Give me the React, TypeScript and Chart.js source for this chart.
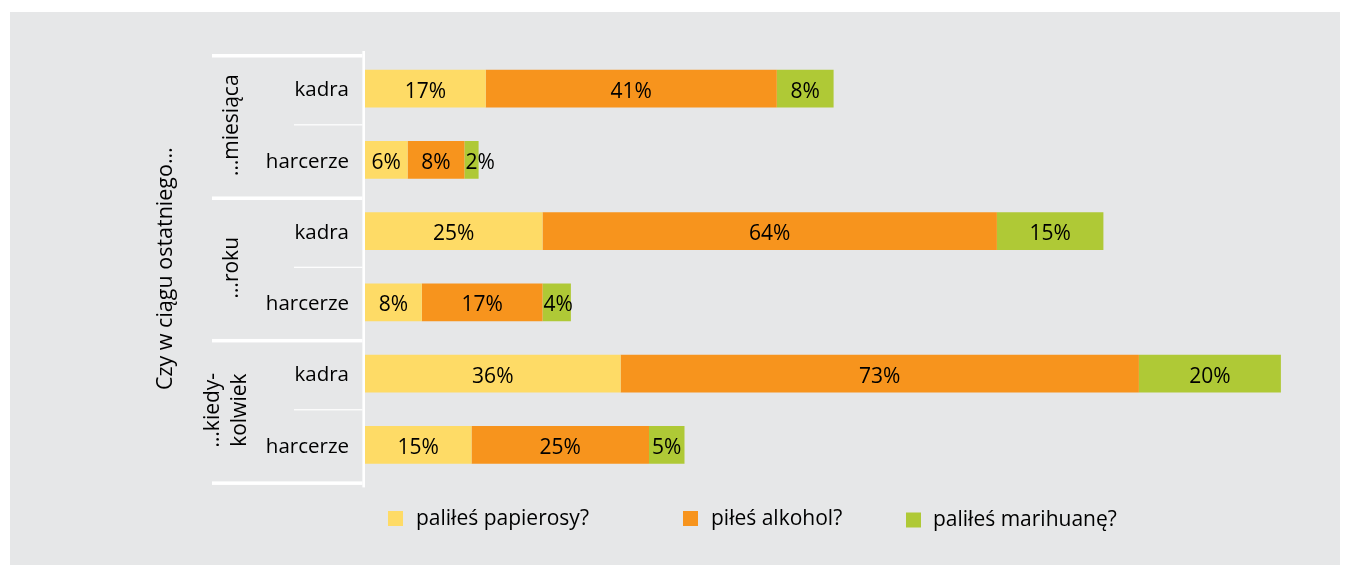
import { useEffect, useRef } from "react";
import { Chart, registerables } from "chart.js";

Chart.register(...registerables);

const rowLabels = ["kadra", "harcerze", "kadra", "harcerze", "kadra", "harcerze"];
const groupLabels: string[][] = [["…miesiąca"], ["…roku"], ["…kiedy-", "kolwiek"]];
const axisTitle = "Czy w ciągu ostatniego…";
const seriesNames = ["paliłeś papierosy?", "piłeś alkohol?", "paliłeś marihuanę?"];
const cigarettes = [17, 6, 25, 8, 36, 15];
const alcohol = [41, 8, 64, 17, 73, 25];
const marijuana = [8, 2, 15, 4, 20, 5];
const seriesColors = ["#FEDB66", "#F7941D", "#AFC936"];

const FONT = "'Open Sans', 'Noto Sans', sans-serif";
const TEXT = "#000000";

const overlay = {
  id: "overlay",
  afterDraw(chart: any) {
    const { ctx, chartArea, scales } = chart;
    const y = scales.y;
    const n = rowLabels.length;
    const step = y.getPixelForValue(1) - y.getPixelForValue(0);
    const edge = (i: number) => y.getPixelForValue(i) - step / 2;
    ctx.save();

    // white axis structure
    ctx.fillStyle = "#ffffff";
    ctx.fillRect(chartArea.left - 2.6, chartArea.top - 2, 2.6, chartArea.bottom - chartArea.top + 9);
    for (let i = 0; i <= n; i += 2) ctx.fillRect(212, edge(i) + 1, chartArea.left - 2.6 - 212, 3.5);
    for (let i = 1; i < n; i += 2) ctx.fillRect(294, edge(i), chartArea.left - 2.6 - 294, 1.2);

    // data labels
    ctx.fillStyle = TEXT;
    ctx.font = `21px ${FONT}`;
    ctx.textBaseline = "alphabetic";
    chart.data.datasets.forEach((ds: any, d: number) => {
      const meta = chart.getDatasetMeta(d);
      meta.data.forEach((el: any, i: number) => {
        const p = el.getProps(["x", "y", "base"], true);
        const label = `${ds.data[i]}%`;
        const w = ctx.measureText(label).width;
        const left = Math.min(p.x, p.base);
        const right = Math.max(p.x, p.base);
        const by = p.y + 9;
        if (w > right - left - 2) {
          ctx.textAlign = "left";
          ctx.fillText(label, left + 1, by);
        } else {
          ctx.textAlign = "center";
          ctx.fillText(label, (left + right) / 2, by);
        }
      });
    });

    // group labels (rotated)
    ctx.font = `21px ${FONT}`;
    ctx.textAlign = "center";
    ctx.textBaseline = "middle";
    groupLabels.forEach((lines, g) => {
      const cy = (edge(g * 2) + edge(g * 2 + 2)) / 2 + 1;
      const lh = 27;
      const cx = lines.length > 1 ? 227 : 232;
      lines.forEach((line, k) => {
        const lx = cx + (k - (lines.length - 1) / 2) * lh;
        ctx.save();
        ctx.translate(lx, cy);
        ctx.rotate(-Math.PI / 2);
        ctx.fillText(line, 0, 0);
        ctx.restore();
      });
    });

    // axis title
    ctx.font = `21.5px ${FONT}`;
    ctx.save();
    ctx.translate(166, (edge(0) + edge(n)) / 2 + 2);
    ctx.rotate(-Math.PI / 2);
    ctx.fillText(axisTitle, 0, 0);
    ctx.restore();

    // legend
    const boxX = [388, 683, 906];
    const textX = [416, 711, 933];
    const base = [524.5, 524.5, 526];
    ctx.font = `21px ${FONT}`;
    ctx.textAlign = "left";
    ctx.textBaseline = "alphabetic";
    chart.data.datasets.forEach((ds: any, d: number) => {
      ctx.fillStyle = ds.backgroundColor;
      ctx.fillRect(boxX[d], base[d] - 13.5, 15, 15);
      ctx.fillStyle = TEXT;
      ctx.fillText(ds.label, textX[d], base[d]);
    });

    ctx.restore();
  },
};

export default function App() {
  const canvasRef = useRef<HTMLCanvasElement | null>(null);

  useEffect(() => {
    const canvas = canvasRef.current;
    if (!canvas) return;
    const values = [cigarettes, alcohol, marijuana];
    const chart = new Chart(canvas, {
      type: "bar",
      data: {
        labels: rowLabels,
        datasets: seriesNames.map((name, d) => ({
          label: name,
          data: values[d],
          backgroundColor: seriesColors[d],
          borderWidth: 0,
          barPercentage: 0.53,
          categoryPercentage: 1,
        })),
      },
      options: {
        indexAxis: "y",
        responsive: false,
        animation: false,
        devicePixelRatio: 1,
        layout: { padding: { top: 53, bottom: 84.6, right: 26.5, left: 0 } },
        scales: {
          x: { stacked: true, min: 0, max: 135, display: false },
          y: {
            stacked: true,
            grid: { display: false, drawTicks: false },
            border: { display: false },
            ticks: {
              color: TEXT,
              font: { family: FONT, size: 20.5 },
              padding: 16,
              labelOffset: 2,
            },
            afterFit: (scale: any) => {
              scale.width = 365;
            },
          },
        },
        plugins: {
          legend: { display: false },
          tooltip: { enabled: false },
        },
      },
      plugins: [overlay],
    } as any);
    return () => chart.destroy();
  }, []);

  return (
    <div style={{ position: "fixed", left: 0, top: 0, width: 1350, height: 565, background: "#ffffff" }}>
      <div style={{ position: "absolute", left: 10, top: 12, width: 1330, height: 553, background: "#E6E7E8" }} />
      <canvas
        ref={canvasRef}
        width={1350}
        height={565}
        style={{ position: "absolute", left: 0, top: 0, width: 1350, height: 565 }}
      />
    </div>
  );
}
